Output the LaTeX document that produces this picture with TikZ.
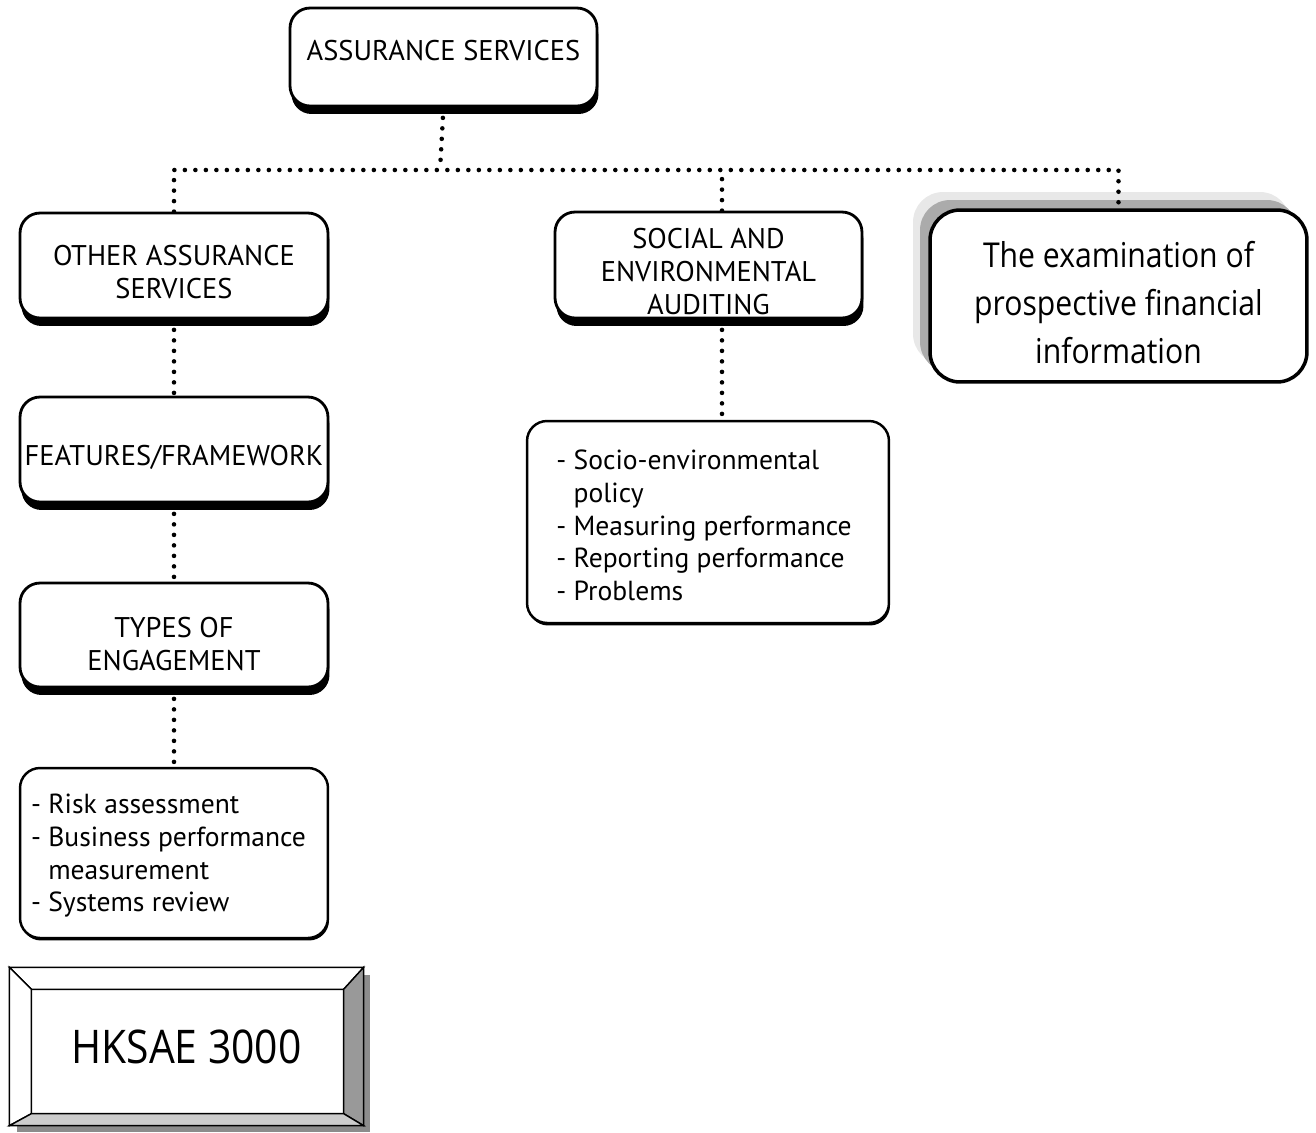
\documentclass[tikz,border=0pt]{standalone}
\usepackage{fontspec}
\setmainfont{PT Sans}
\newfontfamily\segoe[FakeStretch=0.88]{Open Sans}
\usetikzlibrary{shadows,calc}
\newcommand\tx[2]{\raisebox{#1}[\height][\depth]{\begin{tabular}{@{}c@{}}#2\end{tabular}}}
\newcommand\tl[2]{\raisebox{#1}[\height][\depth]{\begin{tabular}{@{}l@{}}#2\end{tabular}}}
\begin{document}
\begin{tikzpicture}[x=0.02cm,y=-0.02cm,
  rbox/.style={draw, line width=1.6pt, rounded corners=0.4cm, fill=white, inner sep=0pt,
    font=\fontsize{16.2}{18.7}\selectfont,
    drop shadow={shadow xshift=0.03cm, shadow yshift=-0.16cm, fill=black, opacity=1}},
  lbox/.style={draw, line width=1.4pt, rounded corners=0.4cm, fill=white, inner sep=0pt,
    font=\fontsize{15.7}{18.7}\selectfont,
    drop shadow={shadow xshift=0.02cm, shadow yshift=-0.05cm, fill=black, opacity=1}},
  ebox/.style={draw, line width=2pt, rounded corners=0.6cm, fill=white, inner sep=0pt,
    font=\segoe\fontsize{19.5}{27.3}\selectfont,
    drop shadow={shadow xshift=-0.34cm, shadow yshift=0.36cm, fill=black!9, opacity=1},
    drop shadow={shadow xshift=-0.2cm, shadow yshift=0.2cm, fill=black!33, opacity=1}},
  hbox/.style={draw, line width=0.8pt, fill=white, inner sep=0pt,
    drop shadow={shadow xshift=0.14cm, shadow yshift=-0.14cm, fill=black!45, opacity=1}},
  bevel/.style={draw, line width=0.8pt},
  dotline/.style={line width=2.6pt, line cap=round, dash pattern=on 0pt off 0.21cm}]
\useasboundingbox (0,0) rectangle (1316,1133);

% nodes
\node[rbox, minimum width=6.14cm, minimum height=1.96cm] (as) at (443.5,57) {\tx{0.07cm}{ASSURANCE SERVICES}};
\node[rbox, minimum width=6.16cm, minimum height=2.1cm] (oas) at (174,265.5) {\tx{-0.2cm}{OTHER ASSURANCE\\SERVICES}};
\node[rbox, minimum width=6.16cm, minimum height=2.1cm] (fw) at (174,449.5) {\tx{-0.19cm}{FEATURES/FRAMEWORK}};
\node[rbox, minimum width=6.16cm, minimum height=2.08cm] (toe) at (174,635) {\tx{-0.24cm}{TYPES OF\\ENGAGEMENT}};
\node[lbox, minimum width=6.16cm, minimum height=3.4cm] (risk) at (174,853) {\tl{-0.06cm}{- Risk assessment\\- Business performance\\\phantom{- }measurement\\- Systems review}\rule{0.22cm}{0pt}};
\node[rbox, minimum width=6.14cm, minimum height=2.12cm] (sea) at (708.5,265) {\tx{-0.2cm}{SOCIAL AND\\ENVIRONMENTAL\\AUDITING}};
\node[lbox, minimum width=7.24cm, minimum height=4.04cm] (socio) at (708,522) {\tl{-0.13cm}{- Socio-environmental\\\phantom{- }policy\\- Measuring performance\\- Reporting performance\\- Problems}\rule{0.16cm}{0pt}};
\node[ebox, minimum width=7.54cm, minimum height=3.44cm] (ex) at (1118.5,296) {\tx{-0.19cm}{The examination of\\prospective financial\\information}};
\node[hbox, minimum width=7.06cm, minimum height=3.14cm] (hk) at (186.5,1046.5) {};

% bevel frame of HKSAE box
\coordinate (i1) at ($(hk.north west)+(22,22)$);
\coordinate (i2) at ($(hk.north east)+(-20,22)$);
\coordinate (i3) at ($(hk.south east)+(-20,-12)$);
\coordinate (i4) at ($(hk.south west)+(22,-12)$);
\filldraw[bevel, fill=white] (hk.north west) -- (hk.north east) -- (i2) -- (i1) -- cycle;
\filldraw[bevel, fill=white] (hk.north west) -- (i1) -- (i4) -- (hk.south west) -- cycle;
\filldraw[bevel, fill=black!40] (hk.north east) -- (hk.south east) -- (i3) -- (i2) -- cycle;
\filldraw[bevel, fill=black!20] (hk.south west) -- (i4) -- (i3) -- (hk.south east) -- cycle;
\node[font=\segoe\fontsize{26.4}{30}\selectfont, inner sep=0pt] (hkt) at (hk.center) {HKSAE 3000};

% connectors
\coordinate (hub) at (440,170);
\draw[dotline] (as.south) -- (hub);
\draw[dotline] (oas.north) |- (ex.north |- hub) -- (ex.north);
\draw[dotline] ([xshift=0.27cm]sea.north) -- ([xshift=0.27cm]sea.north |- hub);
\draw[dotline] (oas.south) -- (fw.north);
\draw[dotline] (fw.south) -- (toe.north);
\draw[dotline] (toe.south) -- (risk.north);
\draw[dotline] ([xshift=0.27cm]sea.south) -- ([xshift=0.27cm]sea.south |- socio.north);
\end{tikzpicture}
\end{document}
